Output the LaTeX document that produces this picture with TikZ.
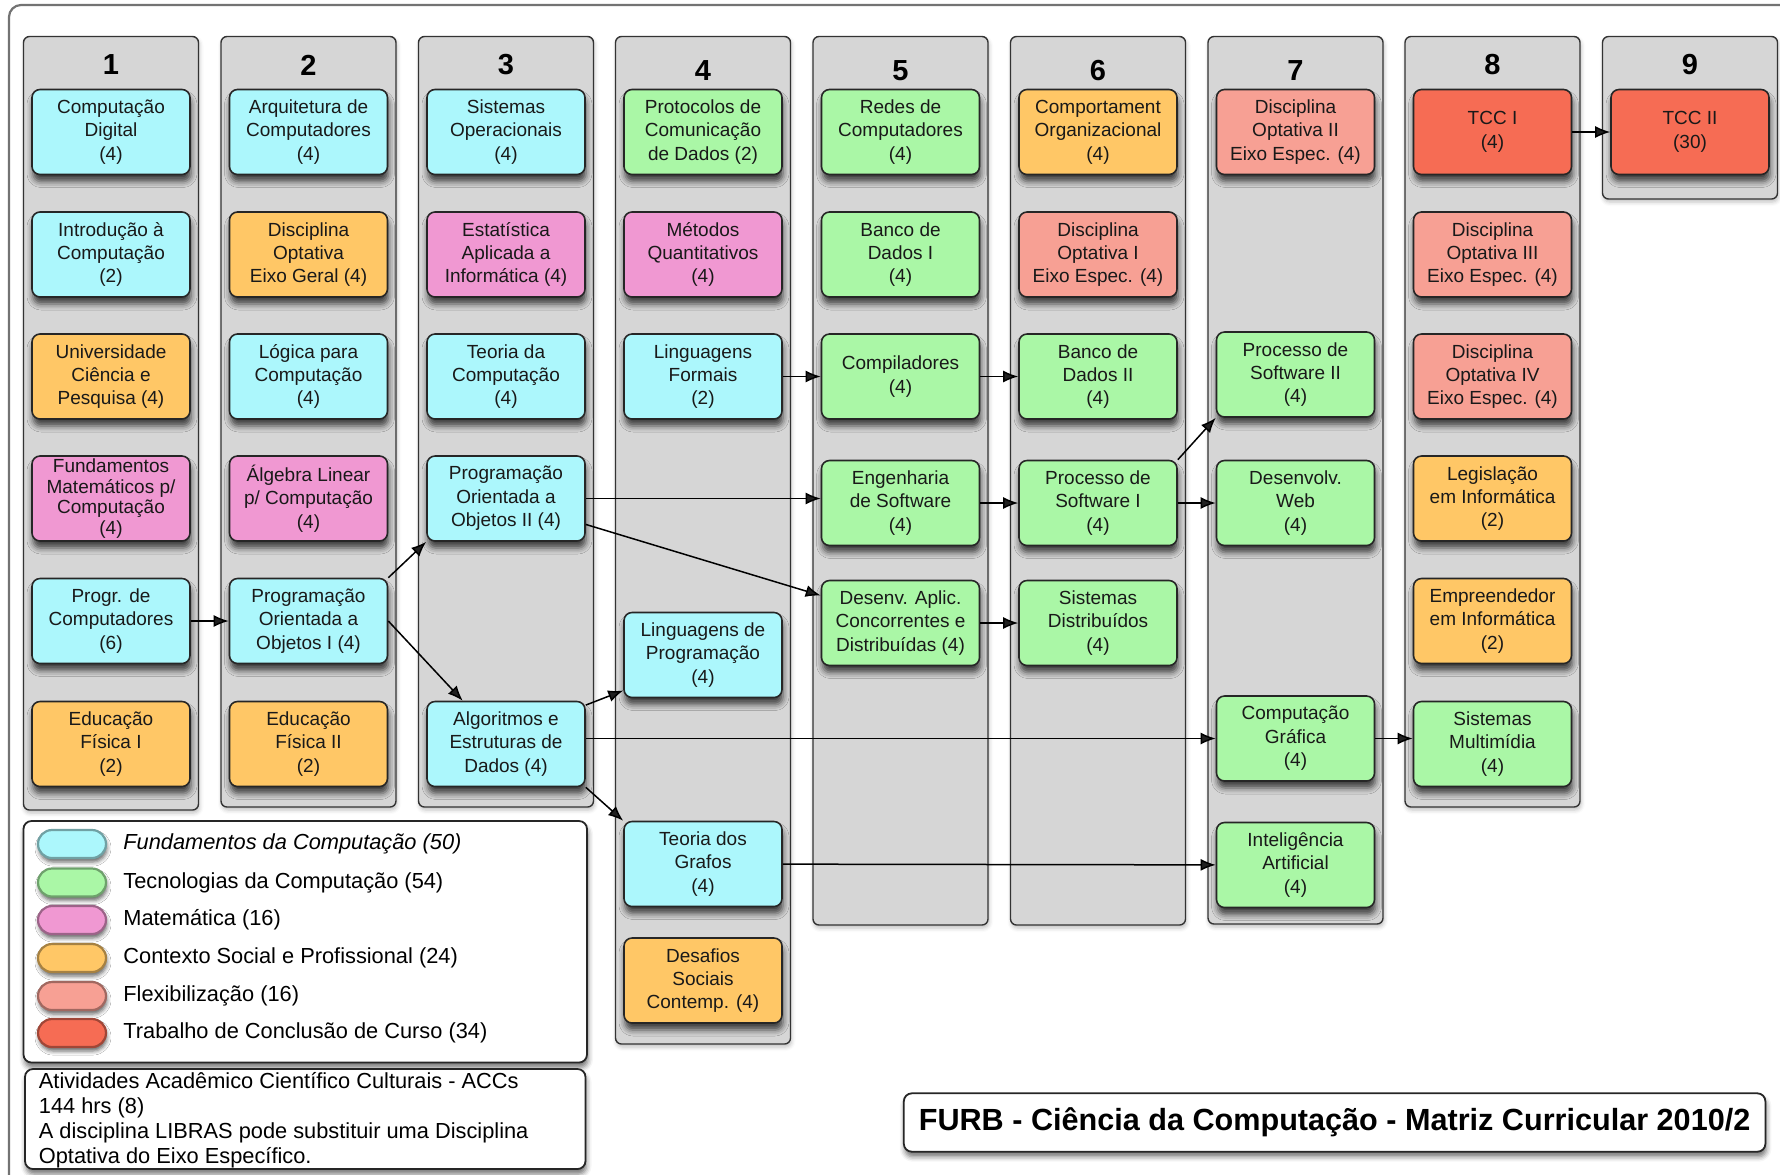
\documentclass[tikz,border=0pt]{standalone}
\usepackage{fontspec}
\setmainfont{Liberation Sans}
\usetikzlibrary{arrows.meta,shadows.blur}

\definecolor{fundcol}{RGB}{172,247,252}
\definecolor{teccol}{RGB}{170,247,166}
\definecolor{matcol}{RGB}{240,152,210}
\definecolor{ctxcol}{RGB}{255,199,102}
\definecolor{flexcol}{RGB}{247,160,148}
\definecolor{tcccol}{RGB}{246,108,84}
\definecolor{semgray}{RGB}{214,214,214}

\tikzset{
  course/.style={draw=black!85, line width=0.8pt, rounded corners=4pt,
    minimum width=79pt, minimum height=42.5pt, inner sep=1pt, align=center,
    text=black!90, font=\fontsize{9.5}{11.7}\selectfont,
    blur shadow={shadow xshift=0.5pt, shadow yshift=-3.5pt, shadow blur radius=3pt, shadow opacity=70}},
  fund/.style={course, fill=fundcol},
  tec/.style={course, fill=teccol},
  mat/.style={course, fill=matcol},
  ctx/.style={course, fill=ctxcol},
  flex/.style={course, fill=flexcol},
  tcc/.style={course, fill=tcccol},
  semester/.style={draw=black!80, fill=semgray, line width=0.7pt, rounded corners=3pt,
    blur shadow={shadow xshift=0.5pt, shadow yshift=-1.5pt, shadow blur radius=2pt, shadow opacity=25}},
  semnum/.style={font=\fontsize{14.5}{16}\selectfont\bfseries},
  prereq/.style={line width=0.75pt, -{Latex[length=7.5pt,width=6pt]}},
  swatch/.style={line width=1.1pt, rounded corners=7pt, minimum width=34pt, minimum height=14pt,
    inner sep=0pt, blur shadow={shadow xshift=0.5pt, shadow yshift=-2pt, shadow blur radius=2pt, shadow opacity=60}},
  legtext/.style={anchor=west, inner sep=0pt, font=\fontsize{10.9}{12.5}\selectfont},
  panel/.style={draw=black!85, fill=white, line width=0.9pt, rounded corners=4pt,
    blur shadow={shadow xshift=0.5pt, shadow yshift=-2.5pt, shadow blur radius=2.5pt, shadow opacity=55}},
}

\begin{document}
\begin{tikzpicture}[x=0.5pt,y=-0.5pt]
\useasboundingbox (0,0) rectangle (1780,1174);

%frame
\draw[draw=black!55, line width=1.1pt, rounded corners=6pt] (9,5) rectangle (1810,1200);

%semesters
\draw[semester] (23.5,36.5) rectangle (198.5,810);
\draw[semester] (221,36.5) rectangle (396,807);
\draw[semester] (418.5,36.5) rectangle (593.5,807);
\draw[semester] (615.5,36.5) rectangle (790.5,1044);
\draw[semester] (813,36.5) rectangle (988,925);
\draw[semester] (1010.5,36.5) rectangle (1185.5,925);
\draw[semester] (1208,36.5) rectangle (1383,924);
\draw[semester] (1405,36.5) rectangle (1580,807);
\draw[semester] (1602.5,36.5) rectangle (1777.5,199);
\node[semnum] (s1) at (111,65) {1};
\node[semnum] (s2) at (308.5,65) {2};
\node[semnum] (s3) at (506,65) {3};
\node[semnum] (s4) at (703,71) {4};
\node[semnum] (s5) at (900.5,71) {5};
\node[semnum] (s6) at (1098,71) {6};
\node[semnum] (s7) at (1295.5,71) {7};
\node[semnum] (s8) at (1492.5,65) {8};
\node[semnum] (s9) at (1690,65) {9};

%semester 1
\node[fund] (compdig) at (111,132) {Computação\\Digital\\(4)};
\node[fund] (introcomp) at (111,254.5) {Introdução à\\Computação\\(2)};
\node[ctx] (univ) at (111,376.5) {Universidade\\Ciência e\\Pesquisa (4)};
\node[mat, font=\fontsize{9.5}{10.4}\selectfont] (fundmat) at (111,498.5) {Fundamentos\\Matemáticos p/\\Computação\\(4)};
\node[fund] (progcomp) at (111,621) {Progr. de\\Computadores\\(6)};
\node[ctx] (edfis1) at (111,744) {Educação\\Física I\\(2)};

%semester 2
\node[fund] (arqcomp) at (308.5,132) {Arquitetura de\\Computadores\\(4)};
\node[ctx] (optgeral) at (308.5,254.5) {Disciplina\\Optativa\\Eixo Geral (4)};
\node[fund] (logica) at (308.5,376.5) {Lógica para\\Computação\\(4)};
\node[mat] (algebra) at (308.5,498.5) {Álgebra Linear\\p/ Computação\\(4)};
\node[fund] (poo1) at (308.5,621) {Programação\\Orientada a\\Objetos I (4)};
\node[ctx] (edfis2) at (308.5,744) {Educação\\Física II\\(2)};

%semester 3
\node[fund] (sisop) at (506,132) {Sistemas\\Operacionais\\(4)};
\node[mat] (estat) at (506,254.5) {Estatística\\Aplicada a\\Informática (4)};
\node[fund] (teocomp) at (506,376.5) {Teoria da\\Computação\\(4)};
\node[fund] (poo2) at (506,498.5) {Programação\\Orientada a\\Objetos II (4)};
\node[fund] (algest) at (506,744) {Algoritmos e\\Estruturas de\\Dados (4)};

%semester 4
\node[tec] (protoc) at (703,132) {Protocolos de\\Comunicação\\de Dados (2)};
\node[mat] (metquant) at (703,254.5) {Métodos\\Quantitativos\\(4)};
\node[fund] (lingform) at (703,376.5) {Linguagens\\Formais\\(2)};
\node[fund] (lingprog) at (703,655) {Linguagens de\\Programação\\(4)};
\node[fund] (grafos) at (703,864) {Teoria dos\\Grafos\\(4)};
\node[ctx] (desafios) at (703,980.5) {Desafios\\Sociais\\Contemp. (4)};

%semester 5
\node[tec] (redes) at (900.5,132) {Redes de\\Computadores\\(4)};
\node[tec] (bd1) at (900.5,254.5) {Banco de\\Dados I\\(4)};
\node[tec] (compil) at (900.5,376.5) {Compiladores\\(4)};
\node[tec] (engsoft) at (900.5,503) {Engenharia\\de Software\\(4)};
\node[tec] (desapl) at (900.5,623) {Desenv. Aplic.\\Concorrentes e\\Distribuídas (4)};

%semester 6
\node[ctx] (comport) at (1098,132) {Comportament\\Organizacional\\(4)};
\node[flex] (opt1) at (1098,254.5) {Disciplina\\Optativa I\\Eixo Espec. (4)};
\node[tec] (bd2) at (1098,376.5) {Banco de\\Dados II\\(4)};
\node[tec] (procsw1) at (1098,503) {Processo de\\Software I\\(4)};
\node[tec] (sisdist) at (1098,623) {Sistemas\\Distribuídos\\(4)};

%semester 7
\node[flex] (opt2) at (1295.5,132) {Disciplina\\Optativa II\\Eixo Espec. (4)};
\node[tec] (procsw2) at (1295.5,374.5) {Processo de\\Software II\\(4)};
\node[tec] (devweb) at (1295.5,503) {Desenvolv.\\Web\\(4)};
\node[tec] (compgraf) at (1295.5,738.5) {Computação\\Gráfica\\(4)};
\node[tec] (ia) at (1295.5,865) {Inteligência\\Artificial\\(4)};

%semester 8
\node[tcc] (tcc1) at (1492.5,132) {TCC I\\(4)};
\node[flex] (opt3) at (1492.5,254.5) {Disciplina\\Optativa III\\Eixo Espec. (4)};
\node[flex] (opt4) at (1492.5,376.5) {Disciplina\\Optativa IV\\Eixo Espec. (4)};
\node[ctx] (legis) at (1492.5,498.5) {Legislação\\em Informática\\(2)};
\node[ctx] (empreend) at (1492.5,621) {Empreendedor\\em Informática\\(2)};
\node[tec] (multimid) at (1492.5,744) {Sistemas\\Multimídia\\(4)};

%semester 9
\node[tcc] (tcc2) at (1690,132) {TCC II\\(30)};

%prerequisites
\draw[prereq] (progcomp) -- (poo1);
\draw[prereq] (poo1.north east) -- (poo2.south west);
\draw[prereq] (poo1.east) -- (algest.135);
\draw[prereq] (poo2.east) -- (poo2.east -| engsoft.west);
\draw[prereq] (poo2.-18) -- (desapl.161);
\draw[prereq] (algest.26) -- (lingprog.204);
\draw[prereq] (algest.east |- compgraf.west) -- (compgraf.west);
\draw[prereq] (algest.south east) -- (grafos.north west);
\draw[prereq] (grafos) -- (ia);
\draw[prereq] (lingform) -- (compil);
\draw[prereq] (compil) -- (bd2);
\draw[prereq] (engsoft) -- (procsw1);
\draw[prereq] (procsw1.north east) -- (procsw2.south west);
\draw[prereq] (procsw1) -- (devweb);
\draw[prereq] (desapl) -- (sisdist);
\draw[prereq] (compgraf.east) -- (compgraf.east -| multimid.west);
\draw[prereq] (tcc1) -- (tcc2);

%legend
\draw[panel] (23.5,821) rectangle (587,1062.5);
\node[swatch, fill=fundcol, draw=fundcol!65!black] (swfund) at (72,844) {};
\node[swatch, fill=teccol, draw=teccol!65!black] (swtec) at (72,882.5) {};
\node[swatch, fill=matcol, draw=matcol!65!black] (swmat) at (72,920) {};
\node[swatch, fill=ctxcol, draw=ctxcol!65!black] (swctx) at (72,958) {};
\node[swatch, fill=flexcol, draw=flexcol!65!black] (swflex) at (72,996) {};
\node[swatch, fill=tcccol, draw=tcccol!65!black] (swtcc) at (72,1033) {};
\node[legtext] (lgfund) at (123,844) {\itshape Fundamentos da Computação (50)};
\node[legtext] (lgtec) at (123,882.5) {Tecnologias da Computação (54)};
\node[legtext] (lgmat) at (123,920) {Matemática (16)};
\node[legtext] (lgctx) at (123,958) {Contexto Social e Profissional (24)};
\node[legtext] (lgflex) at (123,996) {Flexibilização (16)};
\node[legtext] (lgtcc) at (123,1033) {Trabalho de Conclusão de Curso (34)};

%note
\draw[panel] (25,1069) rectangle (585.5,1169);
\node[anchor=north west, inner sep=0pt, align=left, font=\fontsize{10.9}{12.5}\selectfont] (accs) at (38.5,1072)
  {Atividades Acadêmico Científico Culturais - ACCs\\144 hrs (8)\\A disciplina LIBRAS pode substituir uma Disciplina\\Optativa do Eixo Específico.};

%title
\node[panel, minimum width=430.8pt, minimum height=29.2pt, inner sep=0pt, font=\fontsize{15.3}{18}\selectfont\bfseries] (title) at (1334.6,1122.5)
  {FURB - Ciência da Computação - Matriz Curricular 2010/2};
\end{tikzpicture}
\end{document}
